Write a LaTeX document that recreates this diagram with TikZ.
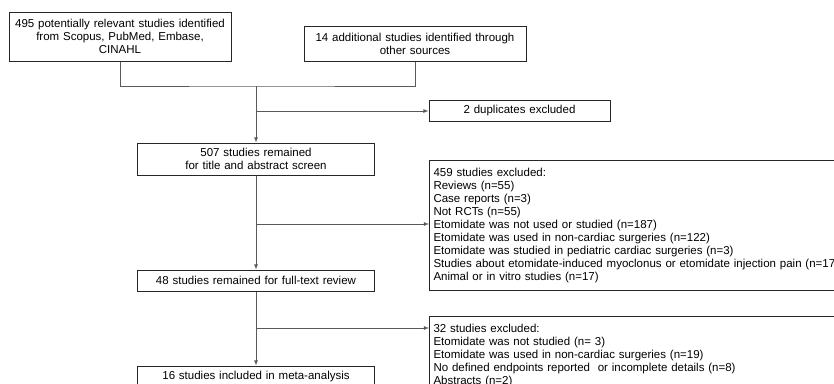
\documentclass[tikz,border=0pt]{standalone}
\usepackage{fontspec}
\setmainfont{Liberation Sans}
\usetikzlibrary{arrows,positioning}
\tikzstyle{block} = [
  rectangle, draw=black!85, line width=1pt, text centered,
  inner sep=0pt, font=\fontsize{11.5}{13}\selectfont
]
\tikzstyle{excl} = [
  rectangle, draw=black!85, line width=1pt, align=left, anchor=north west,
  inner xsep=4pt, inner ysep=7.6pt, text width=440pt,
  font=\fontsize{11.5}{13}\selectfont
]
\tikzstyle{line} = [draw=black!65, line width=0.8pt]

\begin{document}
\begin{tikzpicture}[x=1pt, y=-1pt]
    \useasboundingbox (0,0) rectangle (834,383);
    \clip (0,0) rectangle (834,383);
    \node[block, text width=222pt, minimum height=49pt] (search) at (120,36.5)
      {495 potentially relevant studies identified\\ from Scopus, PubMed, Embase,\\ CINAHL};
    \node[block, text width=222pt, minimum height=35pt] (other) at (415,43.5)
      {14 additional studies identified through\\ other sources};
    \node[block, text width=181pt, minimum height=21pt] (dup) at (519.5,111) {2 duplicates excluded};
    \node[block, text width=237pt, minimum height=32pt] (screen) at (256,159)
      {507 studies remained\\ for title and abstract screen};
    \node[block, text width=237pt, minimum height=21pt] (full) at (256,280.5)
      {48 studies remained for full-text review};
    \node[block, text width=237pt, minimum height=21pt] (incl) at (256,376.5)
      {16 studies included in meta-analysis};
    \node[excl] (excl1) at (429,160) {459 studies excluded:\\
      Reviews (n=55)\\
      Case reports (n=3)\\
      Not RCTs (n=55)\\
      Etomidate was not used or studied (n=187)\\
      Etomidate was used in non-cardiac surgeries (n=122)\\
      Etomidate was studied in pediatric cardiac surgeries (n=3)\\
      Studies about etomidate-induced myoclonus or etomidate injection pain (n=17)\\
      Animal or in vitro studies (n=17)};
    \node[excl] (excl2) at (429,316) {32 studies excluded:\\
      Etomidate was not studied (n= 3)\\
      Etomidate was used in non-cardiac surgeries (n=19)\\
      No defined endpoints reported~ or incomplete details (n=8)\\
      Abstracts (n=2)};

    \coordinate (join) at (256,86);
    \coordinate (split1) at (256,224);
    \coordinate (split2) at (256,328);

    \draw[line] (search.south) |- (join) -| (other.south);
    \draw[line, -latex] (join) -- (screen.north);
    \draw[line, -latex] (join |- dup.west) -- (dup.west);
    \draw[line, -latex] (screen.south) -- (full.north);
    \draw[line, -latex] (split1) -- (split1 -| excl1.west);
    \draw[line, -latex] (full.south) -- (incl.north);
    \draw[line, -latex] (split2) -- (split2 -| excl2.west);
  \end{tikzpicture}
\end{document}
